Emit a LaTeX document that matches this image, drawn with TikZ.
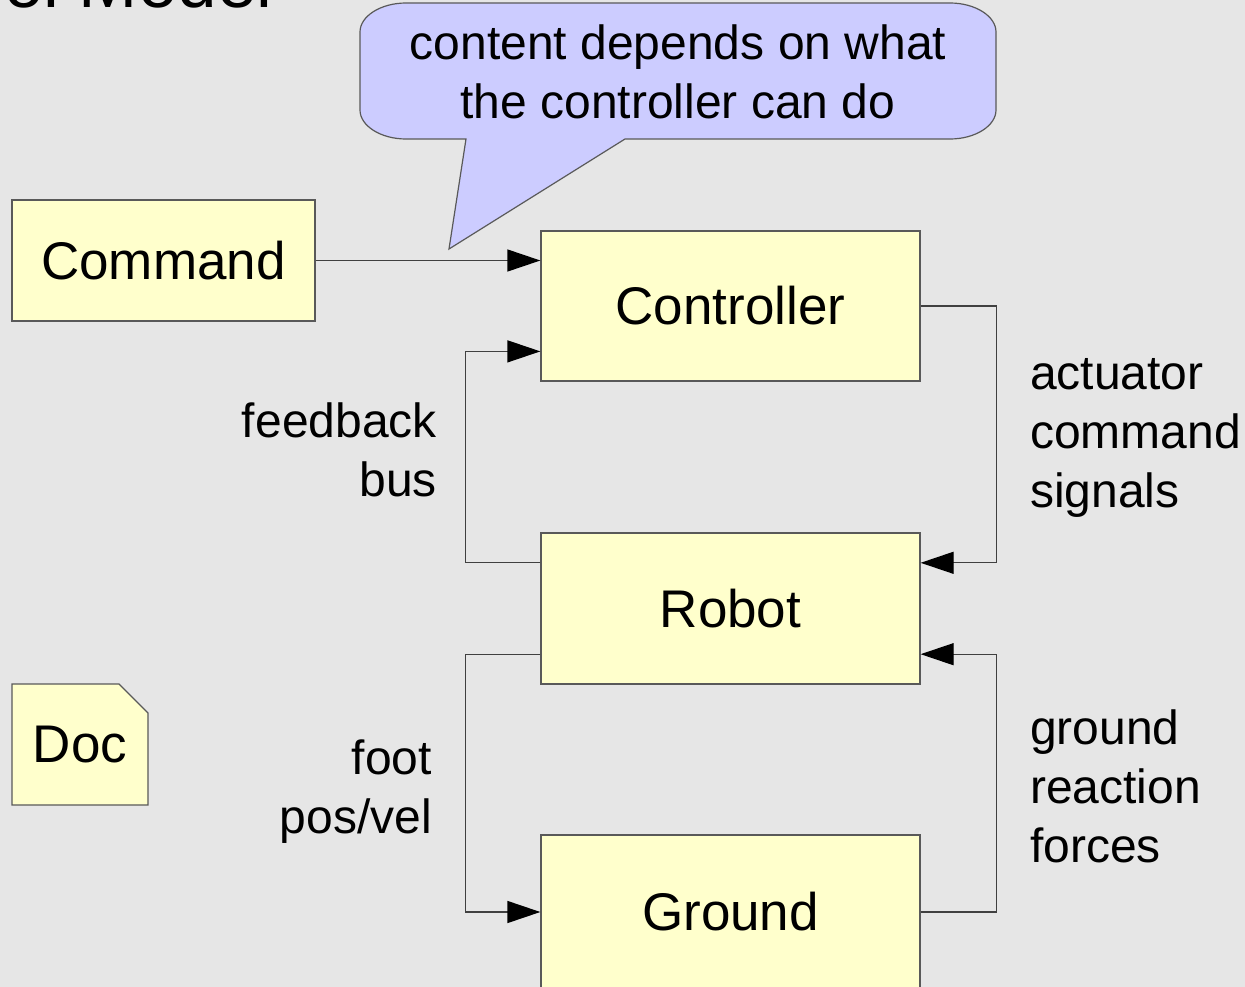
\documentclass[tikz,border=0pt]{standalone}
\usepackage{fontspec}
\setmainfont{Liberation Sans}
\usepackage{tikz}
\usetikzlibrary{arrows.meta,calc}
\definecolor{bggray}{HTML}{E6E6E6}
\definecolor{boxyellow}{HTML}{FFFFCC}
\definecolor{noteblue}{HTML}{CCCCFF}
\tikzstyle{link} = [draw=black!75,line width=1.3pt,->]

\begin{document}
\begin{tikzpicture}[x=1pt,y=-1pt,>={Triangle[length=33pt,width=22pt,color=black]},
  block/.style={rectangle,draw=black!65,line width=1.3pt,fill=boxyellow,
    font=\fontsize{53}{61}\selectfont,inner sep=0pt},
  label text/.style={font=\fontsize{48}{59}\selectfont,inner sep=0pt}]

  \fill[bggray] (0,0) rectangle (1245,987);
  \useasboundingbox (0,0) rectangle (1245,987);

  % title, mostly above the page
  \node[anchor=base east,font=\fontsize{71}{80}\selectfont] (title) at (276,8) {Control Model};

  % blocks
  \node[block,minimum width=303pt,minimum height=121pt] (command) at (163.5,260.5) {Command};
  \node[block,minimum width=379pt,minimum height=150pt] (controller) at (730.5,306) {Controller};
  \node[block,minimum width=379pt,minimum height=151pt] (robot) at (730.5,608.5) {Robot};
  \node[block,minimum width=379pt,minimum height=154pt] (ground) at (730.5,912) {Ground};

  % doc with folded corner
  \filldraw[draw=black!65,line width=1.3pt,fill=boxyellow]
    (12,684) -- (119,684) -- (148,713) -- (148,805) -- (12,805) -- cycle;
  \node[font=\fontsize{53}{61}\selectfont] (doc) at (80,744.5) {Doc};

  % note balloon
  \filldraw[draw=black!65,line width=1.2pt,fill=noteblue]
    (466,139) -- (449,249) -- (625,139) -- (950,139)
    .. controls (975,139) and (996,126) .. (996,110) -- (996,32)
    .. controls (996,16) and (975,3) .. (950,3) -- (406,3)
    .. controls (381,3) and (360,16) .. (360,32) -- (360,110)
    .. controls (360,126) and (381,139) .. (406,139) -- cycle;
  \node[label text,align=center] (note) at (678,72) {content depends on what\\the controller can do};

  % ports
  \coordinate (ctl in2) at ($(controller.north west)!0.8!(controller.south west)$);
  \coordinate (rob in1) at ($(robot.north east)!0.2!(robot.south east)$);
  \coordinate (rob in2) at ($(robot.north east)!0.8!(robot.south east)$);
  \coordinate (rob out1) at ($(robot.north west)!0.2!(robot.south west)$);
  \coordinate (rob out2) at ($(robot.north west)!0.8!(robot.south west)$);

  % connectors
  \path[link] (command.east) -- (command.east -| controller.west);
  \path[link] (controller.east) -- ++(76,0) |- (rob in1);
  \path[link] (rob out1) -- ++(-75,0) |- (ctl in2);
  \path[link] (rob out2) -- ++(-75,0) |- (ground.west);
  \path[link] (ground.east) -- ++(76,0) |- (rob in2);

  % labels
  \node[label text,align=right,anchor=east] (fb) at (437,450) {feedback\\bus};
  \node[label text,align=left,anchor=west] (act) at (1030,438) {actuator\\command\\signals};
  \node[label text,align=right,anchor=east] (foot) at (432,792) {foot\\pos/vel};
  \node[label text,align=left,anchor=west] (grf) at (1030,786) {ground\\reaction\\forces};

\end{tikzpicture}
\end{document}
